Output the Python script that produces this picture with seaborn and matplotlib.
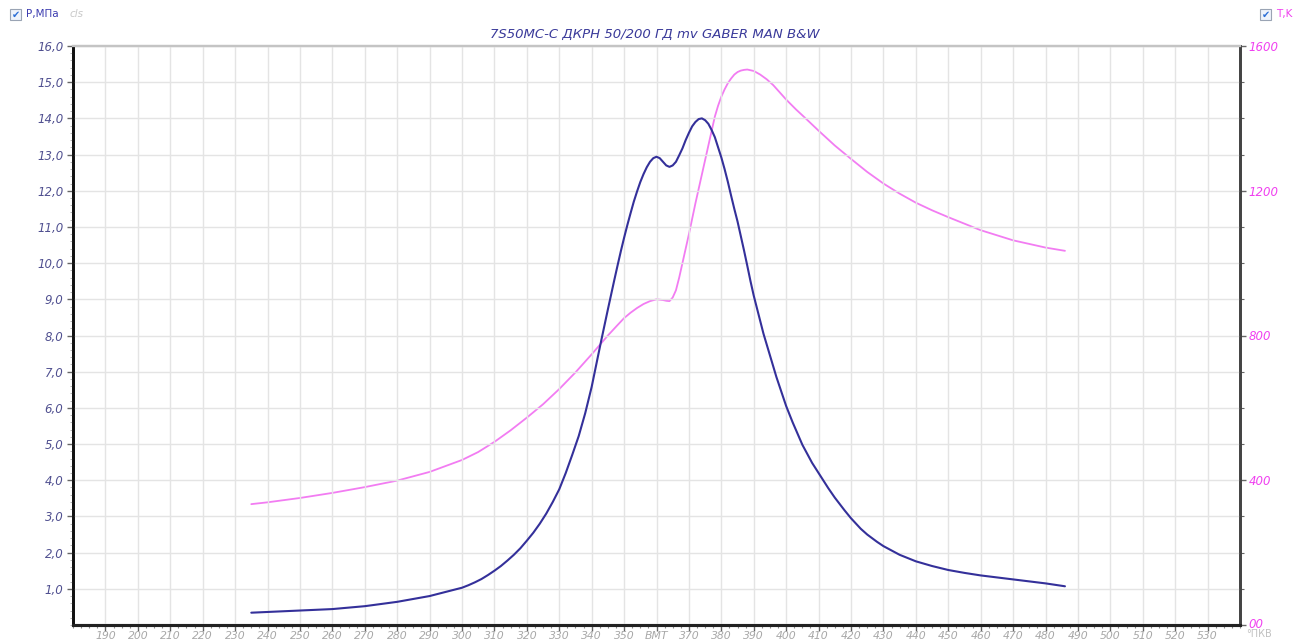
import numpy as np
import pandas as pd
import matplotlib
matplotlib.use("Agg")
import matplotlib.pyplot as plt
import seaborn as sns
from matplotlib.patches import Rectangle

# ---------------- data ----------------
title = "7S50MC-C ДКРН 50/200 ГД mv GABER MAN B&W"

p_angle = [235, 240, 250, 260, 270, 280, 290, 300, 302, 304, 306, 308, 310, 312, 314, 316, 318,
           320, 322, 324, 326, 328, 330, 332, 334, 336, 338, 340, 342, 343, 344, 345, 346, 347,
           348, 349, 350, 351, 352, 353, 354, 355, 356, 357, 358, 359, 360, 361, 362, 363, 364,
           365, 366, 367, 368, 369, 370, 371, 372, 373, 374, 375, 376, 377, 378, 379, 380, 381,
           382, 383, 384, 385, 386, 387, 388, 389, 390, 391, 393, 395, 397, 400, 402, 405, 408,
           410, 413, 415, 418, 420, 423, 425, 428, 430, 435, 440, 445, 450, 455, 460, 470, 480, 486]
p_mpa = [0.34, 0.36, 0.40, 0.44, 0.52, 0.64, 0.80, 1.03, 1.10, 1.18, 1.27, 1.38, 1.50, 1.63, 1.78, 1.94, 2.12,
         2.33, 2.55, 2.80, 3.08, 3.40, 3.75, 4.20, 4.70, 5.22, 5.85, 6.58, 7.45, 7.88, 8.30, 8.72, 9.13, 9.54,
         9.94, 10.33, 10.70, 11.05, 11.38, 11.70, 11.98, 12.24, 12.46, 12.65, 12.80, 12.90, 12.94, 12.90, 12.80, 12.70, 12.66,
         12.70, 12.80, 12.98, 13.17, 13.40, 13.60, 13.78, 13.90, 13.98, 14.00, 13.95, 13.85, 13.68, 13.48, 13.20, 12.92, 12.60,
         12.25, 11.87, 11.50, 11.15, 10.75, 10.35, 9.93, 9.50, 9.10, 8.75, 8.05, 7.45, 6.85, 6.05, 5.60, 4.98, 4.48,
         4.20, 3.78, 3.52, 3.17, 2.95, 2.66, 2.50, 2.30, 2.18, 1.94, 1.76, 1.63, 1.52, 1.44, 1.37, 1.26, 1.15, 1.07]

t_angle = [235, 240, 250, 260, 270, 280, 290, 300, 305, 310, 315, 320, 325, 330, 335, 340, 345,
           348, 350, 352, 354, 356, 358, 360, 362, 363, 364, 365, 366, 367, 368, 370, 372, 374,
           376, 378, 379, 380, 381, 382, 383, 384, 385, 386, 387, 388, 389, 390, 392, 394, 396,
           398, 400, 403, 406, 410, 415, 420, 425, 430, 435, 440, 445, 450, 460, 470, 480, 486]
t_k = [334, 339, 351, 365, 381, 399, 423, 456, 478, 506, 538, 573, 610, 652, 698, 748, 800,
       829, 848, 863, 876, 887, 895, 900, 898, 896, 895, 905, 925, 960, 1000, 1080, 1165, 1245,
       1325, 1405, 1435, 1460, 1480, 1497, 1510, 1521, 1528, 1532, 1534, 1535, 1533, 1531, 1521, 1508, 1492,
       1472, 1452, 1425, 1400, 1366, 1325, 1288, 1252, 1220, 1192, 1167, 1146, 1127, 1091, 1063, 1043, 1034]

x_ticks = list(range(190, 531, 10))
x_labels = ["ВМТ" if v == 360 else str(v) for v in x_ticks]
p_ticks = list(range(1, 17))
p_labels = [f"{v:.1f}".replace(".", ",") for v in p_ticks]
t_ticks = [0, 400, 800, 1200, 1600]
t_labels = ["00", "400", "800", "1200", "1600"]

# ---------------- style ----------------
sns.set_theme(style="white")
plt.rcParams["font.family"] = ["DejaVu Sans"]

P_COLOR = "#34309a"
T_COLOR = "#f27cf2"
LBL_P = "#505090"
LBL_T = "#f040f0"
LBL_X = "#a8a8a8"
GRID = "#e4e4e4"

fig = plt.figure(figsize=(13.05, 6.43), dpi=100)
ax = fig.add_axes([73 / 1305, 18 / 643, (1240 - 73) / 1305, (625 - 46) / 643])

dfp = pd.DataFrame({"angle": p_angle, "P": p_mpa})
dft = pd.DataFrame({"angle": t_angle, "T": t_k})

ax.set_xlim(180, 540)
ax.set_ylim(0, 16)
ax.set_xticks(x_ticks)
ax.set_xticklabels(x_labels)
ax.set_xticks(np.arange(180, 540.1, 2.5), minor=True)
ax.set_yticks(p_ticks)
ax.set_yticklabels(p_labels)
ax.set_yticks(np.arange(0, 16.01, 0.2), minor=True)
ax.grid(True, which="major", color=GRID, linewidth=1.0)
ax.set_axisbelow(True)

ax2 = ax.twinx()
ax2.set_ylim(0, 1600)
ax2.set_yticks(t_ticks)
ax2.set_yticklabels(t_labels)
ax2.set_yticks(range(0, 1601, 100), minor=True)

sns.lineplot(data=dft, x="angle", y="T", ax=ax2, color=T_COLOR, linewidth=1.3,
             estimator=None, sort=False)
sns.lineplot(data=dfp, x="angle", y="P", ax=ax, color=P_COLOR, linewidth=1.5,
             estimator=None, sort=False)
ax.set_zorder(ax2.get_zorder() + 1)
ax.patch.set_visible(False)

for a in (ax, ax2):
    a.set_xlabel("")
    a.set_ylabel("")

# spines
for a in (ax, ax2):
    a.spines["left"].set_color("#111111")
    a.spines["left"].set_linewidth(2.0)
    a.spines["bottom"].set_color("#222222")
    a.spines["bottom"].set_linewidth(2.2)
    a.spines["right"].set_color("#444444")
    a.spines["right"].set_linewidth(2.0)
    a.spines["top"].set_color("#c4c4c4")
    a.spines["top"].set_linewidth(1.6)

# ticks
ax.tick_params(axis="x", which="major", direction="out", length=4, width=1, color="#666666",
               labelsize=7.8, labelcolor=LBL_X, pad=0.5, bottom=True)
ax.tick_params(axis="x", which="minor", direction="out", length=2.5, width=0.8, color="#888888",
               bottom=True)
ax.tick_params(axis="y", which="major", direction="out", length=4, width=1, color="#666666",
               labelsize=8.5, labelcolor=LBL_P, pad=3, left=True)
ax.tick_params(axis="y", which="minor", direction="out", length=2, width=0.6, color="#aaaaaa",
               left=True)
ax2.tick_params(axis="y", which="major", direction="out", length=4, width=1, color="#666666",
                labelsize=8.5, labelcolor=LBL_T, pad=2, right=True)
ax2.tick_params(axis="y", which="minor", direction="out", length=3, width=0.8, color="#666666",
                right=True)
for lbl in ax.get_xticklabels() + ax.get_yticklabels() + ax2.get_yticklabels():
    lbl.set_fontstyle("italic")
ax2.get_yticklabels()[0].set_verticalalignment("center")

# title
fig.text(655 / 1305, 1 - 34 / 643, title, ha="center", va="center", fontsize=9.5,
         style="italic", color="#3a3a9a")

# legend-like checkboxes
def checkbox(xpx, ypx):
    fig.patches.append(Rectangle((xpx / 1305, 1 - (ypx + 6) / 643), 11 / 1305, 11 / 643,
                                 transform=fig.transFigure, facecolor="#eef3fb",
                                 edgecolor="#9aa4b4", linewidth=0.8))
    fig.text((xpx + 5.5) / 1305, 1 - (ypx + 0.5) / 643, "✔", ha="center", va="center",
             fontsize=7, color="#2d6fd6")

checkbox(10, 14)
fig.text(26 / 1305, 1 - 14 / 643, "P,МПа", ha="left", va="center", fontsize=7.5,
         color="#3b3bb0")
fig.text(70 / 1305, 1 - 14 / 643, "cls", ha="left", va="center", fontsize=7.5,
         style="italic", color="#c8c8c8")
checkbox(1260, 14)
fig.text(1276 / 1305, 1 - 14 / 643, "T,K", ha="left", va="center", fontsize=7.5,
         color="#f040f0")

fig.text(1246 / 1305, 1 - 634 / 643, "°ПКВ", ha="left", va="center", fontsize=7,
         color="#c0c0c0")

fig.savefig("out.png", dpi=100)
